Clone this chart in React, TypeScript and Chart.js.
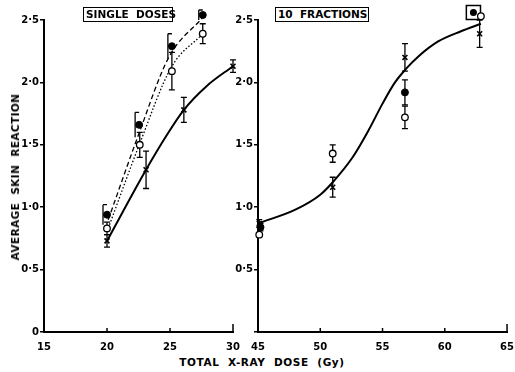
import React, { useEffect, useRef } from "react";
import { Chart, registerables } from "chart.js";
Chart.register(...registerables);

// ---------- Left panel: SINGLE DOSES ----------
const singleCrossDose = [20, 23.1, 26.1, 30];
const singleCrossReaction = [0.73, 1.3, 1.78, 2.13];
const singleCrossErr = [0.05, 0.15, 0.1, 0.05];

const singleFilledDose = [20, 22.55, 25.15, 27.6];
const singleFilledReaction = [0.94, 1.66, 2.29, 2.54];
const singleFilledErr = [0.08, 0.1, 0.1, 0.04];

const singleOpenDose = [20, 22.6, 25.15, 27.6];
const singleOpenReaction = [0.83, 1.5, 2.09, 2.39];
const singleOpenErr = [0.05, 0.1, 0.15, 0.08];

const singleSolidFitDose = [20, 23.1, 24.7, 26.1, 27.9, 30];
const singleSolidFitReaction = [0.73, 1.3, 1.57, 1.78, 1.97, 2.13];
const singleDashedFitDose = [20.1, 22.5, 24.9, 27.6];
const singleDashedFitReaction = [0.9, 1.58, 2.2, 2.52];
const singleDottedFitDose = [20.2, 22.6, 25.1, 27.6];
const singleDottedFitReaction = [0.86, 1.51, 2.12, 2.39];

// ---------- Right panel: 10 FRACTIONS ----------
const fracCrossDose = [45.1, 51, 56.8, 62.8];
const fracCrossReaction = [0.87, 1.16, 2.2, 2.39];
const fracCrossErr = [0.03, 0.08, 0.11, 0.11];

const fracFilledDose = [45.2, 56.8, 62.3];
const fracFilledReaction = [0.84, 1.92, 2.56];
const fracFilledErr = [0.03, 0.1, 0];

const fracOpenDose = [45.1, 51, 56.8, 62.9];
const fracOpenReaction = [0.78, 1.43, 1.72, 2.53];
const fracOpenErr = [0, 0.07, 0.09, 0];

const fracSquareDose = [62.3];
const fracSquareReaction = [2.56];

const fracFitDose = [45, 48, 50, 51, 52.6, 53.9, 55, 56, 56.9, 57.9, 59.5, 61.3, 62.9];
const fracFitReaction = [0.87, 0.98, 1.1, 1.2, 1.4, 1.62, 1.83, 2.0, 2.11, 2.21, 2.33, 2.41, 2.47];

// ---------- Axis labels ----------
const leftYTickLabels = ["0", "0·5", "1·0", "1·5", "2·0", "2·5"];
const rightYTickLabels = ["", "0·5", "1·0", "1·5", "2·0", "2·5"];
const yAxisTitle = "AVERAGE  SKIN  REACTION";
const xAxisTitle = "TOTAL  X-RAY  DOSE  (Gy)";
const leftPanelTitle = "SINGLE  DOSES";
const rightPanelTitle = "10  FRACTIONS";

const FONT = "'DejaVu Sans', sans-serif";

const pts = (xs: number[], ys: number[]) => xs.map((x, i) => ({ x, y: ys[i] }));

const errorBarPlugin = {
  id: "errbars",
  beforeDatasetsDraw(chart: any) {
    const ctx = chart.ctx;
    const xs = chart.scales.x;
    const ys = chart.scales.y;
    chart.data.datasets.forEach((ds: any) => {
      const errs = ds.errs;
      if (!errs) return;
      ctx.save();
      ctx.strokeStyle = "#000";
      ctx.lineWidth = 1.3;
      ds.data.forEach((p: any, i: number) => {
        const e = errs[i];
        if (!e) return;
        const px = xs.getPixelForValue(p.x) + (ds.errOffset || 0);
        const y1 = ys.getPixelForValue(p.y - e);
        const y2 = ys.getPixelForValue(p.y + e);
        ctx.beginPath();
        ctx.moveTo(px, y1);
        ctx.lineTo(px, y2);
        if (ds.errStyle === "bracket") {
          ctx.moveTo(px, y2);
          ctx.lineTo(px + 4, y2);
        } else {
          ctx.moveTo(px - 3, y1);
          ctx.lineTo(px + 3, y1);
          ctx.moveTo(px - 3, y2);
          ctx.lineTo(px + 3, y2);
        }
        ctx.stroke();
      });
      ctx.restore();
    });
  },
};

const inwardXTicksPlugin = {
  id: "inxticks",
  afterDraw(chart: any) {
    const ctx = chart.ctx;
    const xs = chart.scales.x;
    const bottom = chart.chartArea.bottom;
    ctx.save();
    ctx.strokeStyle = "#000";
    ctx.lineWidth = 1.5;
    xs.ticks.forEach((t: any, i: number) => {
      if (i === 0) return;
      const px = xs.getPixelForValue(t.value);
      const len = i === xs.ticks.length - 1 ? 8 : 4;
      ctx.beginPath();
      ctx.moveTo(px, bottom);
      ctx.lineTo(px, bottom - len);
      ctx.stroke();
    });
    ctx.restore();
  },
};

function makeOptions(xmin: number, xmax: number, yLabels: string[], yWidth: number, padRight: number) {
  return {
    responsive: false,
    animation: false,
    layout: { padding: { top: 20, right: padRight, left: 0, bottom: 0 }, autoPadding: false },
    plugins: { legend: { display: false }, tooltip: { enabled: false }, title: { display: false } },
    scales: {
      x: {
        type: "linear",
        min: xmin,
        max: xmax,
        afterFit: (s: any) => {
          s.height = 18;
        },
        ticks: {
          stepSize: 5,
          color: "#000",
          padding: 1,
          maxRotation: 0,
          font: { family: FONT, size: 10, weight: "bold" },
        },
        grid: { display: false },
        border: { display: true, color: "#000", width: 2 },
      },
      y: {
        type: "linear",
        min: 0,
        max: 2.5,
        afterFit: (s: any) => {
          s.width = yWidth;
        },
        ticks: {
          stepSize: 0.5,
          color: "#000",
          padding: 1,
          font: { family: FONT, size: 10, weight: "bold" },
          callback: (_v: any, i: number) => yLabels[i],
        },
        grid: { drawOnChartArea: false, drawTicks: true, tickLength: 4, color: "#000", lineWidth: 1.5 },
        border: { display: true, color: "#000", width: 2 },
      },
    },
  } as any;
}

const markerCross = { pointStyle: "crossRot", pointRadius: 3.5, pointBorderWidth: 1.6, pointBorderColor: "#000", pointBackgroundColor: "#000", showLine: false, clip: false };
const markerFilled = { pointStyle: "circle", pointRadius: 3.5, pointBorderWidth: 1, pointBorderColor: "#000", pointBackgroundColor: "#000", showLine: false, clip: false };
const markerOpen = { pointStyle: "circle", pointRadius: 3.3, pointBorderWidth: 1.3, pointBorderColor: "#000", pointBackgroundColor: "#fff", showLine: false, clip: false };
const fitLine = { pointRadius: 0, borderColor: "#000", cubicInterpolationMode: "monotone", fill: false, clip: false, showLine: true };

// Note: Chart.js draws dataset 0 last (on top), so markers come first and curves last.
function leftDatasets() {
  return [
    { ...markerOpen, data: pts(singleOpenDose, singleOpenReaction), errs: singleOpenErr },
    { ...markerFilled, data: pts(singleFilledDose, singleFilledReaction), errs: singleFilledErr, errStyle: "bracket", errOffset: -4 },
    { ...markerCross, data: pts(singleCrossDose, singleCrossReaction), errs: singleCrossErr },
    { ...fitLine, data: pts(singleSolidFitDose, singleSolidFitReaction), borderWidth: 2 },
    { ...fitLine, data: pts(singleDashedFitDose, singleDashedFitReaction), borderWidth: 1.3, borderDash: [5, 3] },
    { ...fitLine, data: pts(singleDottedFitDose, singleDottedFitReaction), borderWidth: 1.3, borderDash: [1.5, 2] },
  ];
}

function rightDatasets() {
  return [
    { ...markerOpen, data: pts(fracOpenDose, fracOpenReaction), errs: fracOpenErr },
    {
      ...markerFilled,
      data: pts(fracFilledDose, fracFilledReaction),
      errs: fracFilledErr,
      // the point above the plot top needs a wider (invisible) border so it is not culled
      pointBorderWidth: fracFilledDose.map((_d, i) => (i === fracFilledDose.length - 1 ? 6 : 1)),
      pointBorderColor: fracFilledDose.map((_d, i) => (i === fracFilledDose.length - 1 ? "rgba(0,0,0,0)" : "#000")),
    },
    { pointStyle: "rect", pointRadius: 10, pointBorderWidth: 1.5, pointBorderColor: "#000", pointBackgroundColor: "#fff", showLine: false, clip: false, data: pts(fracSquareDose, fracSquareReaction) },
    { ...markerCross, data: pts(fracCrossDose, fracCrossReaction), errs: fracCrossErr },
    { ...fitLine, data: pts(fracFitDose, fracFitReaction), borderWidth: 2 },
  ];
}

function Panel(props: { kind: "left" | "right"; left: number; width: number }) {
  const ref = useRef<HTMLCanvasElement>(null);
  useEffect(() => {
    if (!ref.current) return;
    const isLeft = props.kind === "left";
    const chart = new Chart(ref.current, {
      type: "scatter",
      data: { datasets: (isLeft ? leftDatasets() : rightDatasets()) as any },
      options: isLeft ? makeOptions(15, 30, leftYTickLabels, 44, 12) : makeOptions(45, 65, rightYTickLabels, 26, 6),
      plugins: [errorBarPlugin, inwardXTicksPlugin],
    });
    return () => chart.destroy();
  }, []);
  return (
    <canvas
      ref={ref}
      width={props.width}
      height={350}
      style={{ position: "absolute", left: props.left, top: 0, width: props.width, height: 350, display: "block" }}
    />
  );
}

const boxStyle: React.CSSProperties = {
  position: "absolute",
  border: "1.5px solid #000",
  fontFamily: FONT,
  fontSize: 10.5,
  fontWeight: "bold",
  lineHeight: "13px",
  padding: "0 2px",
  whiteSpace: "pre",
  color: "#000",
  background: "#fff",
};

export default function App() {
  return (
    <div style={{ position: "absolute", left: 0, top: 0, width: 515, height: 372, background: "#fff", overflow: "hidden" }}>
      <Panel kind="left" left={0} width={245} />
      <Panel kind="right" left={232} width={283} />
      <div style={{ ...boxStyle, left: 83, top: 7, width: 84 }}>{leftPanelTitle}</div>
      <div style={{ ...boxStyle, left: 275, top: 7, width: 88 }}>{rightPanelTitle}</div>
      <div
        style={{
          position: "absolute",
          left: 15,
          top: 177,
          transform: "translate(-50%, -50%) rotate(-90deg)",
          fontFamily: FONT,
          fontSize: 10.5,
          fontWeight: "bold",
          letterSpacing: 0.4,
          whiteSpace: "pre",
          color: "#000",
        }}
      >
        {yAxisTitle}
      </div>
      <div
        style={{
          position: "absolute",
          left: 262,
          top: 362,
          transform: "translate(-50%, -50%)",
          fontFamily: FONT,
          fontSize: 10.5,
          fontWeight: "bold",
          letterSpacing: 0.6,
          whiteSpace: "pre",
          color: "#000",
        }}
      >
        {xAxisTitle}
      </div>
    </div>
  );
}
